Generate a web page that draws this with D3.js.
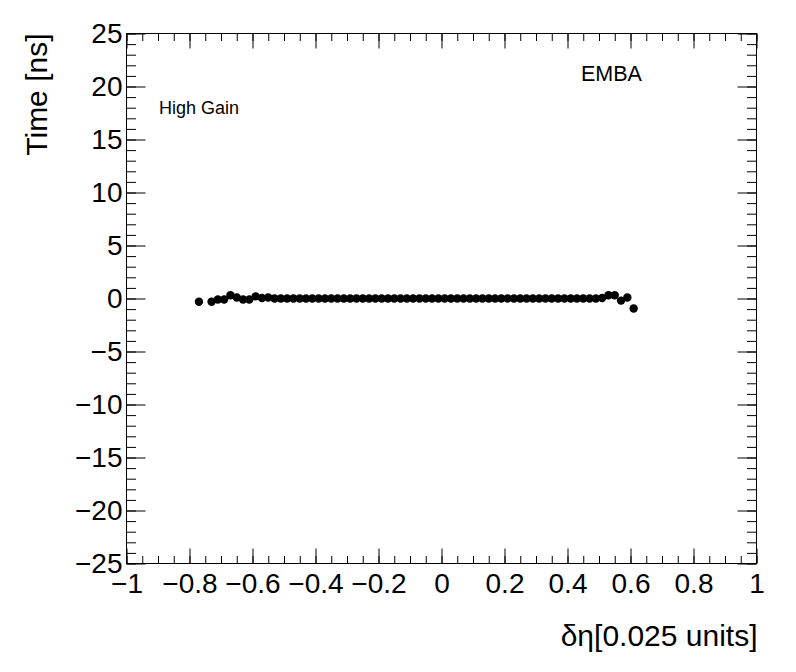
<!DOCTYPE html>
<html>
<head>
<meta charset="utf-8">
<script src="https://cdn.jsdelivr.net/npm/d3@7/dist/d3.min.js"></script>
<style>
  html, body { margin: 0; padding: 0; background: #fff; }
  svg { display: block; }
  text { font-family: "Liberation Sans", Arial, Helvetica, sans-serif; fill: #000; }
</style>
</head>
<body>
<svg id="chart" width="796" height="672"></svg>
<script>
// ---- data ----
const etaBins = [
  -0.77, -0.73, -0.71, -0.69, -0.67, -0.65, -0.63, -0.61, -0.59, -0.57, -0.55,
  -0.53, -0.51, -0.49, -0.47, -0.45, -0.43, -0.41, -0.39, -0.37, -0.35, -0.33,
  -0.31, -0.29, -0.27, -0.25, -0.23, -0.21, -0.19, -0.17, -0.15, -0.13, -0.11,
  -0.09, -0.07, -0.05, -0.03, -0.01, 0.01, 0.03, 0.05, 0.07, 0.09, 0.11, 0.13,
  0.15, 0.17, 0.19, 0.21, 0.23, 0.25, 0.27, 0.29, 0.31, 0.33, 0.35, 0.37, 0.39,
  0.41, 0.43, 0.45, 0.47, 0.49, 0.51, 0.53, 0.55, 0.57, 0.59, 0.61
];
const timeValues = [
  -0.3, -0.3, -0.1, -0.1, 0.3, 0.1, -0.1, -0.1, 0.2, 0.05, 0.1,
  0, 0, 0, 0, 0, 0, 0, 0, 0, 0, 0,
  0, 0, 0, 0, 0, 0, 0, 0, 0, 0, 0,
  0, 0, 0, 0, 0, 0, 0, 0, 0, 0, 0, 0,
  0, 0, 0, 0, 0, 0, 0, 0, 0, 0, 0, 0, 0,
  0, 0, 0, 0, 0, 0.05, 0.3, 0.3, -0.2, 0.1, -0.95
];
const xMajorTicks = [-1, -0.8, -0.6, -0.4, -0.2, 0, 0.2, 0.4, 0.6, 0.8, 1];
const xTickLabels = ["\u22121", "\u22120.8", "\u22120.6", "\u22120.4", "\u22120.2", "0", "0.2", "0.4", "0.6", "0.8", "1"];
const yMajorTicks = [-25, -20, -15, -10, -5, 0, 5, 10, 15, 20, 25];
const yTickLabels = ["\u221225", "\u221220", "\u221215", "\u221210", "\u22125", "0", "5", "10", "15", "20", "25"];
const xDomain = [-1, 1];
const yDomain = [-25, 25];
const xTitle = "\u03b4\u03b7[0.025 units]";
const yTitle = "Time [ns]";

// ---- layout ----
const L = 126.5, R = 756.5, T = 33.5, B = 563.5;
const svg = d3.select("#chart");
const x = d3.scaleLinear().domain(xDomain).range([L, R]);
const y = d3.scaleLinear().domain(yDomain).range([B, T]);

const xMinor = d3.range(-1, 1.0001, 0.05).map(v => +v.toFixed(2));
const yMinor = d3.range(-25, 25.001, 1);

function styleAxis(g) {
  g.select(".domain").remove();
  g.selectAll(".tick line").attr("stroke", "#000").attr("stroke-width", 1);
}

// bottom major with labels
svg.append("g").attr("transform", `translate(0,${B})`)
  .call(d3.axisBottom(x).tickValues(xMajorTicks).tickSize(-15).tickPadding(8)
    .tickFormat((d, i) => xTickLabels[i]))
  .call(styleAxis)
  .call(g => g.selectAll("text").attr("font-size", 28).attr("dy", "0.71em")
    .attr("y", 10).style("font-family", "Liberation Sans, Arial, sans-serif"));
// bottom minor
svg.append("g").attr("transform", `translate(0,${B})`)
  .call(d3.axisBottom(x).tickValues(xMinor).tickSize(-7.5).tickFormat(""))
  .call(styleAxis);
// top major/minor
svg.append("g").attr("transform", `translate(0,${T})`)
  .call(d3.axisTop(x).tickValues(xMajorTicks).tickSize(-15).tickFormat(""))
  .call(styleAxis);
svg.append("g").attr("transform", `translate(0,${T})`)
  .call(d3.axisTop(x).tickValues(xMinor).tickSize(-7.5).tickFormat(""))
  .call(styleAxis);

// left major with labels
svg.append("g").attr("transform", `translate(${L},0)`)
  .call(d3.axisLeft(y).tickValues(yMajorTicks).tickSize(-19).tickPadding(5)
    .tickFormat((d, i) => yTickLabels[i]))
  .call(styleAxis)
  .call(g => g.selectAll("text").attr("font-size", 28).attr("x", -4)
    .style("font-family", "Liberation Sans, Arial, sans-serif"));
svg.append("g").attr("transform", `translate(${L},0)`)
  .call(d3.axisLeft(y).tickValues(yMinor).tickSize(-9.5).tickFormat(""))
  .call(styleAxis);
// right
svg.append("g").attr("transform", `translate(${R},0)`)
  .call(d3.axisRight(y).tickValues(yMajorTicks).tickSize(-19).tickFormat(""))
  .call(styleAxis);
svg.append("g").attr("transform", `translate(${R},0)`)
  .call(d3.axisRight(y).tickValues(yMinor).tickSize(-9.5).tickFormat(""))
  .call(styleAxis);

// frame
svg.append("rect").attr("x", L).attr("y", T).attr("width", R - L).attr("height", B - T)
  .attr("fill", "none").attr("stroke", "#000").attr("stroke-width", 1);

// points
svg.append("g").selectAll("circle")
  .data(etaBins.map((e, i) => ({ e, t: timeValues[i] })))
  .join("circle")
  .attr("cx", d => x(d.e))
  .attr("cy", d => y(d.t))
  .attr("r", 4.2)
  .attr("fill", "#000");

// titles
svg.append("text").attr("x", R + 1).attr("y", 646).attr("text-anchor", "end")
  .attr("font-size", 30).text(xTitle);
svg.append("text").attr("transform", `translate(47,${T}) rotate(-90)`)
  .attr("text-anchor", "end").attr("font-size", 30).text(yTitle);

// labels
svg.append("text").attr("x", 159).attr("y", 114).attr("font-size", 18).text("High Gain");
svg.append("text").attr("x", 581).attr("y", 81).attr("font-size", 21.5).text("EMBA");
</script>
</body>
</html>
